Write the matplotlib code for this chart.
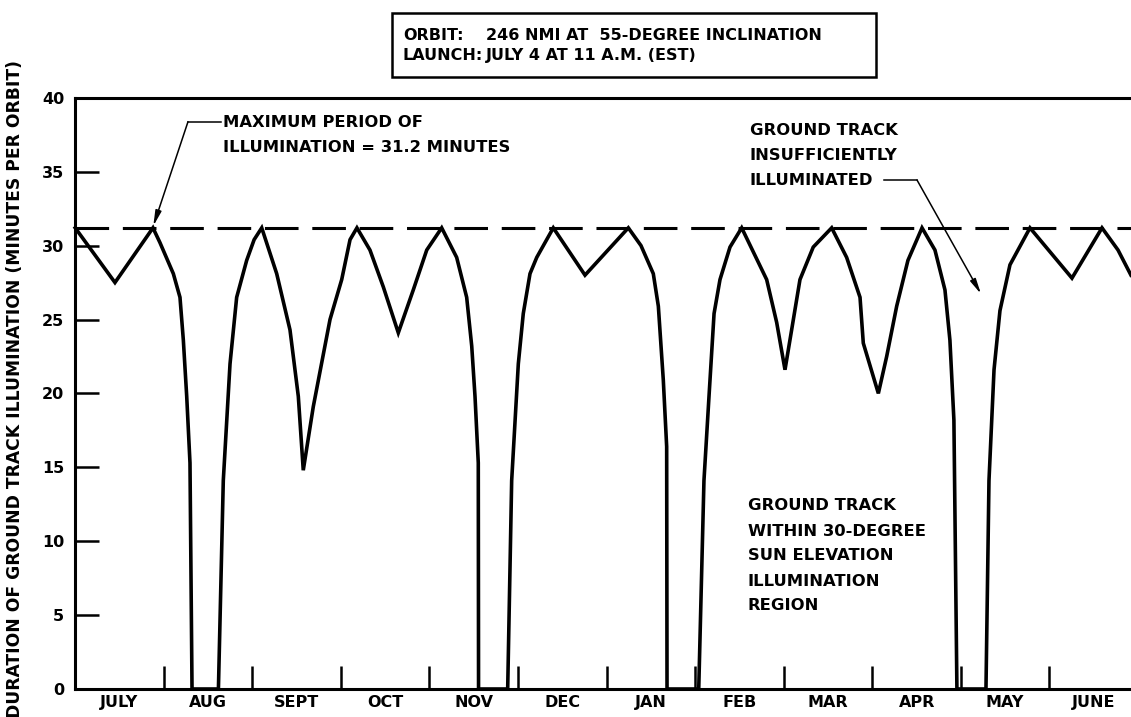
import matplotlib
matplotlib.use("Agg")
import matplotlib.pyplot as plt
from matplotlib.patches import Rectangle

# ---- data -------------------------------------------------------------
months = ["JULY", "AUG", "SEPT", "OCT", "NOV", "DEC",
          "JAN", "FEB", "MAR", "APR", "MAY", "JUNE"]
y_ticks = [0, 5, 10, 15, 20, 25, 30, 35, 40]
max_period = 31.2

# time in months after 1 July, illumination in minutes per orbit
t_month = [0.000, 0.449, 0.878, 0.957, 1.108, 1.183, 1.221, 1.259, 1.296, 1.319,
           1.617, 1.672, 1.748, 1.823, 1.936, 2.020, 2.106,
           2.275, 2.425, 2.519, 2.575, 2.688, 2.877, 3.009, 3.103, 3.181,
           3.328, 3.479, 3.648, 3.817, 3.969, 4.138,
           4.307, 4.420, 4.477, 4.514, 4.551, 4.554,
           4.883, 4.928, 5.003, 5.059, 5.135, 5.211, 5.398,
           5.756, 6.245,
           6.388, 6.527, 6.584, 6.640, 6.678, 6.682,
           7.040, 7.099, 7.156, 7.213, 7.280, 7.393, 7.525,
           7.807, 7.920, 8.014, 8.089, 8.183, 8.333, 8.541,
           8.710, 8.861, 8.898, 9.068, 9.162, 9.275, 9.402, 9.561,
           9.707, 9.820, 9.876, 9.921, 9.955,
           10.283, 10.317, 10.374, 10.441, 10.554, 10.780,
           11.254, 11.593, 11.774, 11.920]
minutes = [31.2, 27.5, 31.2, 30.2, 28.1, 26.5, 23.6, 19.8, 15.3, 0.0,
           0.0, 14.1, 22.0, 26.5, 29.0, 30.4, 31.2,
           28.1, 24.3, 19.8, 14.8, 19.1, 25.0, 27.7, 30.4, 31.2,
           29.7, 27.2, 24.1, 27.0, 29.7, 31.2,
           29.2, 26.5, 23.2, 19.8, 15.3, 0.0,
           0.0, 14.1, 22.0, 25.4, 28.1, 29.2, 31.2,
           28.0, 31.2,
           30.0, 28.1, 25.9, 20.9, 16.4, 0.0,
           0.0, 14.1, 19.8, 25.4, 27.7, 29.9, 31.2,
           27.7, 24.8, 21.6, 24.3, 27.7, 29.9, 31.2,
           29.2, 26.5, 23.4, 20.0, 22.5, 25.9, 29.0, 31.2,
           29.7, 27.0, 23.6, 18.2, 0.0,
           0.0, 14.1, 21.6, 25.6, 28.7, 31.2,
           27.8, 31.2, 29.7, 28.0]

orbit_text = ["ORBIT:", "246 NMI AT  55-DEGREE INCLINATION"]
launch_text = ["LAUNCH:", "JULY 4 AT 11 A.M. (EST)"]
y_title = "DURATION OF GROUND TRACK ILLUMINATION (MINUTES PER ORBIT)"
note_max = ["MAXIMUM PERIOD OF", "ILLUMINATION = 31.2 MINUTES"]
note_dark = ["GROUND TRACK", "INSUFFICIENTLY", "ILLUMINATED"]
note_lit = ["GROUND TRACK", "WITHIN 30-DEGREE", "SUN ELEVATION",
            "ILLUMINATION", "REGION"]

# ---- figure -----------------------------------------------------------
W, H = 1131, 717
DPI = 100
plt.rcParams["font.family"] = ["DejaVu Sans"]
plt.rcParams["font.weight"] = "bold"

fig = plt.figure(figsize=(W / DPI, H / DPI), dpi=DPI)
fig.patch.set_facecolor("white")


def fx(px):
    return px / W


def fy(py):
    return 1 - py / H


left_px, right_px, top_px, bottom_px = 75.2, 1131, 97.8, 689
ax = fig.add_axes([fx(left_px), fy(bottom_px),
                   fx(right_px - left_px), (bottom_px - top_px) / H])
x_max = (right_px - left_px) / 88.57
ax.set_xlim(0, x_max)
ax.set_ylim(0, 40)

ink = "black"
for side in ("left", "top", "bottom"):
    ax.spines[side].set_linewidth(2.2)
    ax.spines[side].set_color(ink)
ax.spines["right"].set_visible(False)

# month boundaries as short inward ticks, names centred between them
ax.set_xticks(range(1, 12))
ax.set_xticklabels([])
ax.tick_params(axis="x", which="major", direction="in", length=16.5,
               width=1.8, color=ink)
ax.set_xticks([i + 0.5 for i in range(len(months))], minor=True)
ax.set_xticklabels(months, minor=True, fontsize=11.5, fontweight="bold")
ax.tick_params(axis="x", which="minor", length=0, pad=4.5)

ax.set_yticks(y_ticks)
ax.set_yticklabels([str(v) for v in y_ticks], fontsize=11.5,
                   fontweight="bold")
ax.tick_params(axis="y", direction="in", length=17.5, width=1.8,
               color=ink, pad=8)

# illumination curve and the maximum-period reference line
ax.plot(t_month, minutes, color=ink, lw=2.6, solid_joinstyle="miter",
        clip_on=False, zorder=3)
ax.axhline(max_period, color=ink, lw=2.2, dashes=(11, 4.5), zorder=2)

# annotations (pixel helpers -> data coordinates)


def dx(px):
    return (px - left_px) / 88.57


def dy(py):
    return (bottom_px - py) / 14.78


fs_note = 11.8
for i, line in enumerate(note_max):
    ax.text(dx(223), dy(122.5 + 25 * i), line, fontsize=fs_note,
            fontweight="bold", ha="left", va="center")
ax.plot([dx(188), dx(221)], [dy(121.7), dy(121.7)], color=ink, lw=1.1)
ax.annotate("", xy=(dx(153.3), dy(226)), xytext=(dx(188), dy(121.7)),
            arrowprops=dict(arrowstyle="-|>,head_length=0.9,head_width=0.18",
                            color=ink, lw=1.1, shrinkA=0, shrinkB=0))

for i, line in enumerate(note_dark):
    ax.text(dx(750), dy(130.5 + 25 * i), line, fontsize=fs_note,
            fontweight="bold", ha="left", va="center")
ax.plot([dx(884), dx(917)], [dy(180), dy(180)], color=ink, lw=1.1)
ax.annotate("", xy=(dx(981), dy(294)), xytext=(dx(917), dy(180)),
            arrowprops=dict(arrowstyle="-|>,head_length=0.9,head_width=0.18",
                            color=ink, lw=1.1, shrinkA=0, shrinkB=0))

for i, line in enumerate(note_lit):
    ax.text(dx(748), dy(506 + 25 * i), line, fontsize=fs_note,
            fontweight="bold", ha="left", va="center")

# orbit / launch box
fig.add_artist(Rectangle((fx(392), fy(76.7)), fx(876 - 392),
                         (76.7 - 12.7) / H, transform=fig.transFigure,
                         fill=False, lw=1.8, edgecolor=ink))
fs_box = 11.5
for row, (label, value) in enumerate([orbit_text, launch_text]):
    yy = fy(36 + 19.5 * row)
    fig.text(fx(403), yy, label, fontsize=fs_box, fontweight="bold",
             va="center", ha="left")
    fig.text(fx(486), yy, value, fontsize=fs_box, fontweight="bold",
             va="center", ha="left")

fig.text(fx(15), fy(60), y_title, rotation=90, fontsize=12.3,
         fontweight="bold", ha="center", va="top")

fig.savefig("out.png", dpi=DPI, facecolor="white")
